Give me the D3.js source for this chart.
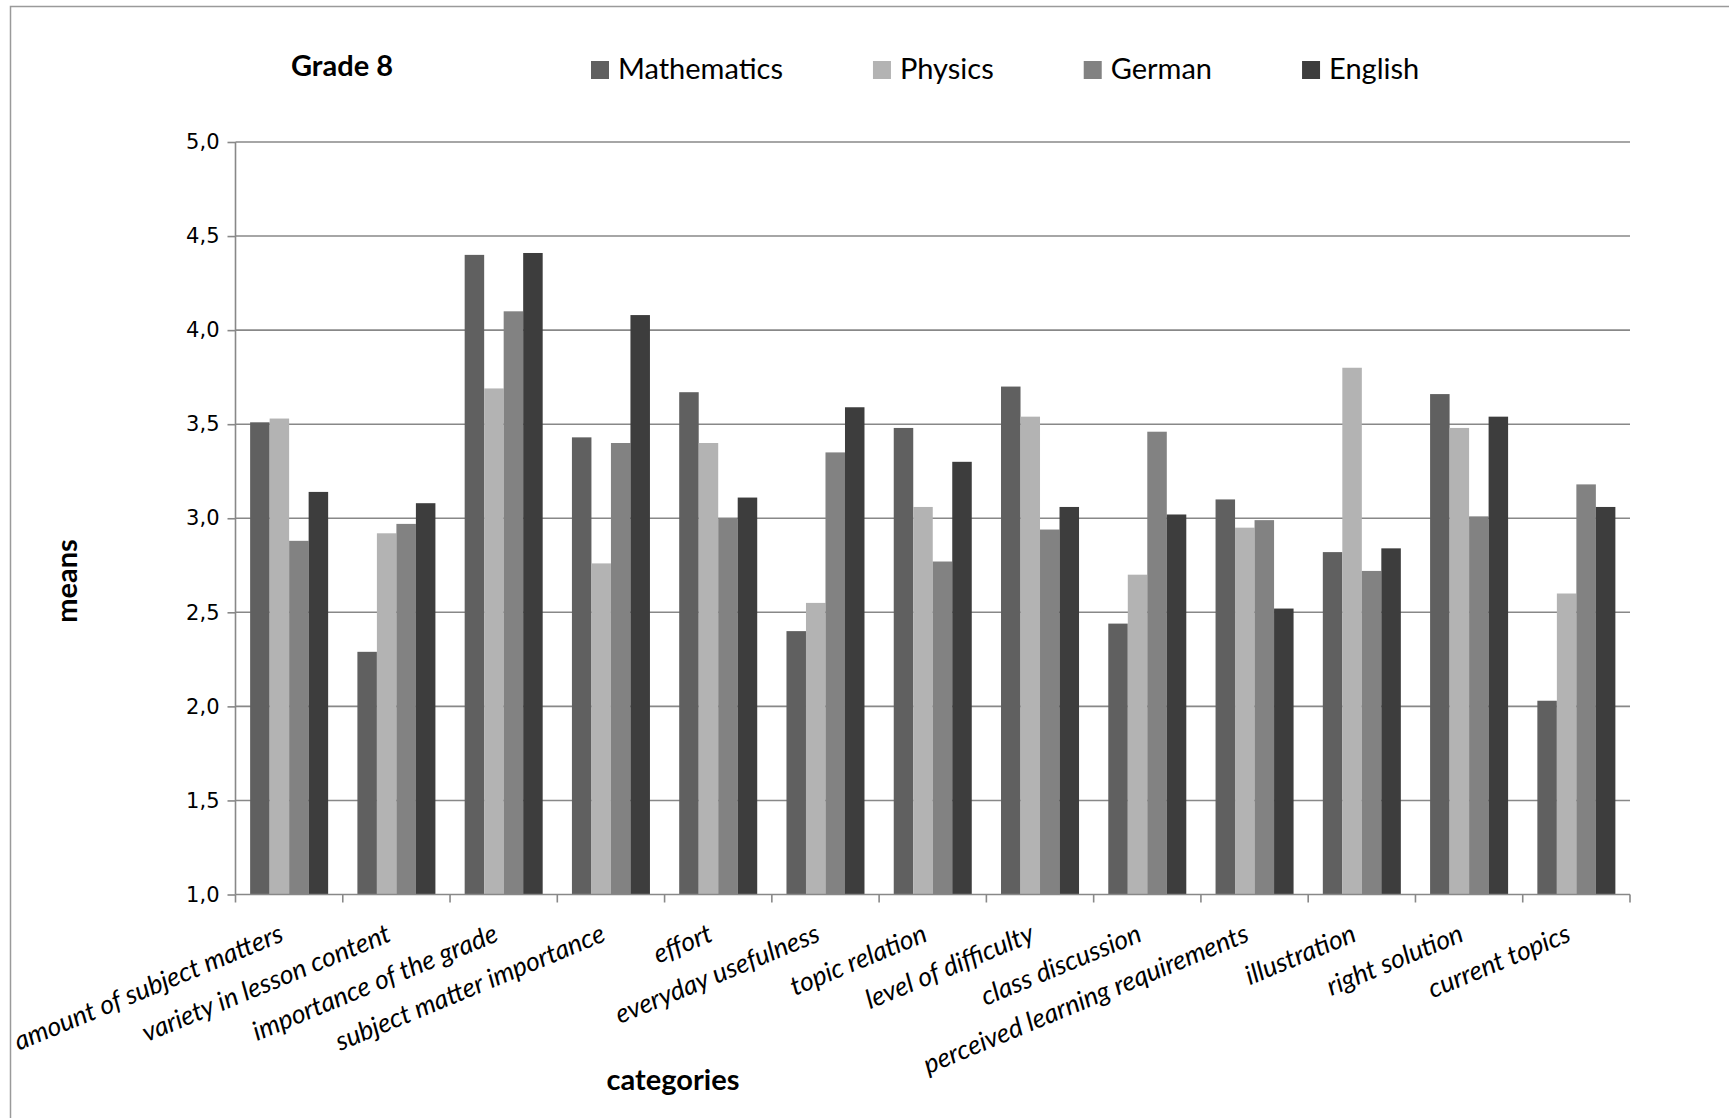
<!DOCTYPE html>
<html>
<head>
<meta charset="utf-8">
<script src="https://cdn.jsdelivr.net/npm/d3@7"></script>
<style>
  html, body { margin: 0; padding: 0; background: #fff; }
  svg { display: block; }
  .lbl { font-family: Lato, "Open Sans", sans-serif; fill: #000; }
</style>
</head>
<body>
<svg id="chart" width="1729" height="1118"></svg>
<script>
// Mean ratings per category, grade 8
const categories = [
  "amount of subject matters",
  "variety in lesson content",
  "importance of the grade",
  "subject matter importance",
  "effort",
  "everyday usefulness",
  "topic relation",
  "level of difficulty",
  "class discussion",
  "perceived learning requirements",
  "illustration",
  "right solution",
  "current topics"
];
const subjects = ["Mathematics", "Physics", "German", "English"];
const mathematics = [3.51, 2.29, 4.40, 3.43, 3.67, 2.40, 3.48, 3.70, 2.44, 3.10, 2.82, 3.66, 2.03];
const physics     = [3.53, 2.92, 3.69, 2.76, 3.40, 2.55, 3.06, 3.54, 2.70, 2.95, 3.80, 3.48, 2.60];
const german      = [2.88, 2.97, 4.10, 3.40, 3.00, 3.35, 2.77, 2.94, 3.46, 2.99, 2.72, 3.01, 3.18];
const english     = [3.14, 3.08, 4.41, 4.08, 3.11, 3.59, 3.30, 3.06, 3.02, 2.52, 2.84, 3.54, 3.06];
const yTickValues = [1.0, 1.5, 2.0, 2.5, 3.0, 3.5, 4.0, 4.5, 5.0];
const chartTitle = "Grade 8";
const xTitle = "categories";
const yTitle = "means";

const seriesValues = [mathematics, physics, german, english];
const colors = ["#606060", "#b3b3b3", "#828282", "#3d3d3d"];

const svg = d3.select("#chart");
const W = 1729, H = 1118;
const plot = { left: 235.5, right: 1630, top: 142, bottom: 894.5 };
const gridColor = "#888888";

// outer chart frame
svg.append("rect")
  .attr("x", 10.5).attr("y", 6.5)
  .attr("width", W + 10).attr("height", H + 10)
  .attr("fill", "none").attr("stroke", "#9a9a9a").attr("stroke-width", 1.5);

const x0 = d3.scaleBand()
  .domain(categories)
  .range([plot.left, plot.right])
  .paddingInner(1.5 / 5.5)
  .paddingOuter(0.75 / 5.5);

const x1 = d3.scaleBand()
  .domain(subjects)
  .range([0, x0.bandwidth()]);

const y = d3.scaleLinear().domain([1, 5]).range([plot.bottom, plot.top]);
const fmt = v => d3.format(".1f")(v).replace(".", ",");

// horizontal gridlines
svg.append("g")
  .selectAll("line")
  .data(yTickValues.slice(1))
  .join("line")
  .attr("x1", plot.left).attr("x2", plot.right)
  .attr("y1", d => y(d)).attr("y2", d => y(d))
  .attr("stroke", gridColor).attr("stroke-width", 1.6);

// bars
const rows = categories.map((c, i) => ({ cat: c, vals: seriesValues.map((s, k) => ({ key: subjects[k], k, v: s[i] })) }));
svg.append("g")
  .selectAll("g")
  .data(rows)
  .join("g")
  .attr("transform", d => `translate(${x0(d.cat)},0)`)
  .selectAll("rect")
  .data(d => d.vals)
  .join("rect")
  .attr("x", d => x1(d.key))
  .attr("width", x1.bandwidth())
  .attr("y", d => y(d.v))
  .attr("height", d => y(1) - y(d.v))
  .attr("fill", d => colors[d.k]);

// y axis
const yAxis = d3.axisLeft(y)
  .tickValues(yTickValues)
  .tickFormat(fmt)
  .tickSize(8)
  .tickPadding(8);
const gy = svg.append("g")
  .attr("transform", `translate(${plot.left},0)`)
  .call(yAxis);
gy.select(".domain").attr("stroke", gridColor).attr("stroke-width", 1.6).attr("d", `M0,${plot.top}V${plot.bottom}`);
gy.selectAll(".tick line").attr("stroke", gridColor).attr("stroke-width", 1.6);
gy.selectAll(".tick text")
  .attr("font-family", "'DejaVu Sans', sans-serif")
  .attr("font-size", 21)
  .attr("fill", "#000");

// x axis: line with ticks at category boundaries
svg.append("line")
  .attr("x1", plot.left).attr("x2", plot.right)
  .attr("y1", plot.bottom).attr("y2", plot.bottom)
  .attr("stroke", gridColor).attr("stroke-width", 1.6);
const step = x0.step();
const boundaries = d3.range(categories.length + 1).map(i => plot.left + i * step);
svg.append("g")
  .selectAll("line")
  .data(boundaries)
  .join("line")
  .attr("x1", d => d).attr("x2", d => d)
  .attr("y1", plot.bottom).attr("y2", plot.bottom + 8)
  .attr("stroke", gridColor).attr("stroke-width", 1.6);

// rotated category labels
svg.append("g")
  .selectAll("text")
  .data(categories)
  .join("text")
  .attr("class", "lbl")
  .attr("font-style", "italic")
  .attr("font-size", 26.5)
  .attr("text-anchor", "end")
  .attr("transform", d => `translate(${x0(d) + x0.bandwidth() / 2 - 4},${plot.bottom + 46}) rotate(-22.5)`)
  .text(d => d);

// titles
svg.append("text").attr("class", "lbl")
  .attr("x", 291).attr("y", 76)
  .attr("font-size", 29).attr("font-weight", "bold")
  .text(chartTitle);

svg.append("text").attr("class", "lbl")
  .attr("x", 673).attr("y", 1090)
  .attr("text-anchor", "middle")
  .attr("font-size", 29).attr("font-weight", "bold")
  .text(xTitle);

svg.append("text").attr("class", "lbl")
  .attr("transform", "translate(77,581) rotate(-90)")
  .attr("text-anchor", "middle")
  .attr("font-size", 29).attr("font-weight", "bold")
  .text(yTitle);

// legend: square swatch + label, laid out left to right
const legend = svg.append("g");
let lx = 591;
subjects.forEach((s, k) => {
  const item = legend.append("g").attr("transform", `translate(${lx},0)`);
  item.append("rect").attr("x", 0).attr("y", 61).attr("width", 18).attr("height", 18).attr("fill", colors[k]);
  const t = item.append("text").attr("class", "lbl")
    .attr("x", 27).attr("y", 79)
    .attr("font-size", 29)
    .text(s);
  lx += 27 + t.node().getComputedTextLength() + 90;
});
</script>
</body>
</html>
